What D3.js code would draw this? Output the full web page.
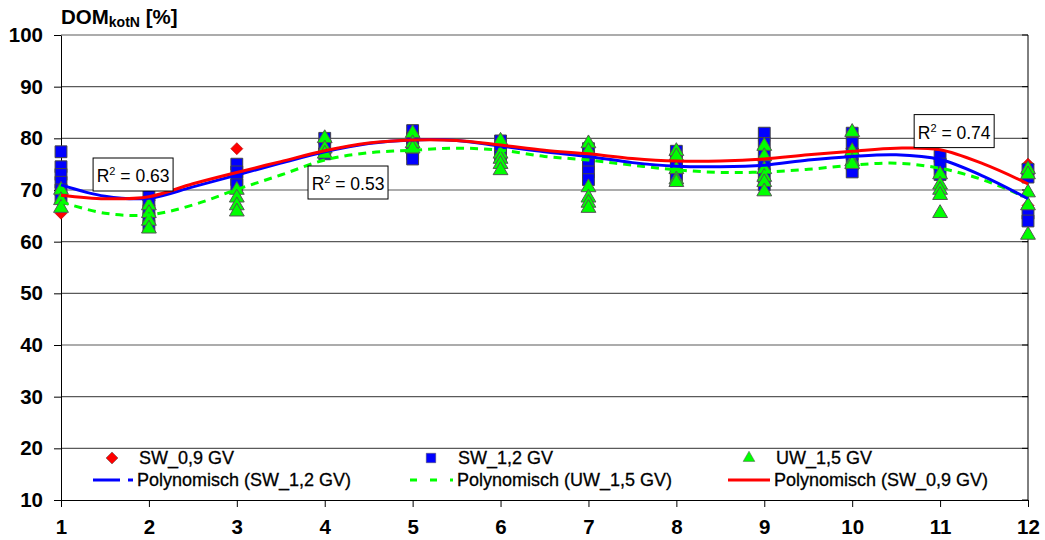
<!DOCTYPE html>
<html>
<head>
<meta charset="utf-8">
<script src="https://cdn.jsdelivr.net/npm/d3@7/dist/d3.min.js"></script>
<style>
  body { margin: 0; background: #fff; }
  svg { display: block; font-family: Arial, "Liberation Sans", sans-serif; }
</style>
</head>
<body>
<svg width="1045" height="540"></svg>
<script>
"use strict";

var svg_width = 1045;
var svg_height = 540;

var xTicks = [1, 2, 3, 4, 5, 6, 7, 8, 9, 10, 11, 12];
var yTicks = [10, 20, 30, 40, 50, 60, 70, 80, 90, 100];

var sw09 = [
    [1, 65.5], [1, 70], [2, 68], [3, 78], [3, 73], [4, 78], [5, 79], [6, 78],
    [7, 76], [8, 75], [9, 79.5], [9, 75], [10, 78], [11, 76], [12, 75], [12, 67]
];
var sw12 = [
    [1, 77.4], [1, 74.5], [1, 73], [1, 71.5], [1, 70], [1, 68.5],
    [2, 69], [2, 67.5], [2, 66], [2, 64.5], [2, 63],
    [3, 75], [3, 73.5], [3, 72], [3, 71],
    [4, 80], [4, 78.5], [4, 77],
    [5, 81.5], [5, 80], [5, 78.5], [5, 77], [5, 76],
    [6, 79.5], [6, 78], [6, 76.5],
    [7, 78], [7, 76.5], [7, 75], [7, 73.5], [7, 72],
    [8, 77.5], [8, 76], [8, 74.5], [8, 73], [8, 72],
    [9, 81], [9, 79], [9, 77], [9, 75], [9, 73], [9, 71],
    [10, 81], [10, 79], [10, 77], [10, 75], [10, 73.5],
    [11, 76.5], [11, 75], [11, 73],
    [12, 74], [12, 72.5], [12, 65.5], [12, 64]
];
var uw15 = [
    [1, 70], [1, 68], [1, 66.5],
    [2, 67], [2, 65.5], [2, 64], [2, 62.5],
    [3, 70], [3, 68.5], [3, 67], [3, 65.8],
    [4, 80], [4, 78], [4, 77],
    [5, 81], [5, 79], [5, 78],
    [6, 79.5], [6, 77], [6, 76], [6, 75], [6, 73.8],
    [7, 79], [7, 77.5], [7, 70.5], [7, 68.5], [7, 67.5], [7, 66.5],
    [8, 77.5], [8, 76.5], [8, 74], [8, 72], [8, 71.5],
    [9, 78.5], [9, 76.5], [9, 74], [9, 72.5], [9, 71.5], [9, 69.7],
    [10, 81.2], [10, 77.5], [10, 75.5], [10, 75],
    [11, 73], [11, 71], [11, 70], [11, 69], [11, 65.5],
    [12, 74], [12, 73], [12, 69.5], [12, 67], [12, 61.3]
];

// polynomial trend lines, every half month
var trendX = [1, 1.5, 2, 2.5, 3, 3.5, 4, 4.5, 5, 5.5, 6, 6.5, 7, 7.5, 8, 8.5, 9, 9.5, 10, 10.5, 11, 11.5, 12];
var trendSW09 = [69.0, 68.3, 68.7, 71.2, 73.4, 75.5, 77.6, 79.1, 79.7, 79.6, 78.7, 77.7, 77.0, 76.1, 75.6, 75.6, 76.0, 76.8, 77.5, 78.1, 77.8, 75.0, 71.2];
var trendSW12 = [71.0, 68.8, 68.4, 70.6, 72.9, 75.2, 77.4, 79.0, 79.7, 79.6, 78.5, 77.4, 76.5, 75.3, 74.6, 74.5, 74.8, 75.8, 76.5, 76.8, 75.9, 72.6, 68.3];
var trendUW15 = [67.7, 65.5, 65.2, 67.1, 70.1, 72.9, 75.8, 77.2, 77.7, 78.1, 77.7, 76.5, 75.8, 74.8, 73.9, 73.4, 73.5, 74.0, 74.8, 75.2, 74.2, 71.9, 68.4];

var r2Labels = ["0.63", "0.53", "0.74"];
var r2At = [[1.82, 73.0], [4.265, 71.45], [11.16, 81.4]];

var svg = d3.select("svg");

var xScale = d3.scaleLinear().domain([1, 12]).range([61, 1028]);
var yScale = d3.scaleLinear().domain([10, 100]).range([500, 35]);

// Gitternetz
svg.append("g")
    .selectAll("line")
    .data(yTicks.slice(1))
    .enter().append("line")
    .attr("x1", xScale(1)).attr("x2", xScale(12))
    .attr("y1", function(d) {return yScale(d);})
    .attr("y2", function(d) {return yScale(d);})
    .attr("stroke", "#5a5a5a")
    .attr("stroke-width", 1.2);

// Y axis
var yAxis = svg.append("g")
    .attr("transform", "translate(" + xScale(1) + ",0)")
    .call(d3.axisLeft(yScale).tickValues(yTicks).tickSize(7).tickPadding(11).tickSizeOuter(0));
yAxis.selectAll("text")
    .attr("font-size", 20.5).attr("font-weight", "bold").attr("fill", "#000")
    .attr("font-family", "Arial, 'Liberation Sans', sans-serif");

// right frame with inner ticks
svg.append("line")
    .attr("x1", xScale(12)).attr("x2", xScale(12))
    .attr("y1", yScale(100)).attr("y2", yScale(10))
    .attr("stroke", "#000");
svg.append("g").selectAll("line")
    .data(yTicks)
    .enter().append("line")
    .attr("x1", xScale(12) - 6).attr("x2", xScale(12))
    .attr("y1", function(d) {return yScale(d);})
    .attr("y2", function(d) {return yScale(d);})
    .attr("stroke", "#000");

// X axis
var xAxis = svg.append("g")
    .attr("transform", "translate(0," + yScale(10) + ")")
    .call(d3.axisBottom(xScale).tickValues(xTicks).tickSize(7).tickPadding(12).tickSizeOuter(0));
xAxis.selectAll("text")
    .attr("font-size", 20.5).attr("font-weight", "bold").attr("fill", "#000")
    .attr("font-family", "Arial, 'Liberation Sans', sans-serif");

// markers
var diamond = d3.symbol().type(d3.symbolSquare).size(72);
var square = d3.symbol().type(d3.symbolSquare).size(140);
var triangle = d3.symbol().type(d3.symbolTriangle).size(95);

svg.append("g").selectAll("path")
    .data(sw09)
    .enter().append("path")
    .attr("d", diamond)
    .attr("transform", function(d) {return "translate(" + xScale(d[0]) + "," + yScale(d[1]) + ") rotate(45)";})
    .attr("fill", "#ff0000").attr("stroke", "#b00000").attr("stroke-width", 0.6);

svg.append("g").selectAll("path")
    .data(sw12)
    .enter().append("path")
    .attr("d", square)
    .attr("transform", function(d) {return "translate(" + xScale(d[0]) + "," + yScale(d[1]) + ")";})
    .attr("fill", "#0000ff").attr("stroke", "#444").attr("stroke-width", 1);

svg.append("g").selectAll("path")
    .data(uw15)
    .enter().append("path")
    .attr("d", triangle)
    .attr("transform", function(d) {return "translate(" + xScale(d[0]) + "," + yScale(d[1]) + ")";})
    .attr("fill", "#00ff00").attr("stroke", "#555").attr("stroke-width", 1);

// trend lines
var line = d3.line()
    .x(function(d) {return xScale(d[0]);})
    .y(function(d) {return yScale(d[1]);})
    .curve(d3.curveCatmullRom);

function pairs(ys) {
    return trendX.map(function(x, i) {return [x, ys[i]];});
}

svg.append("path")
    .attr("d", line(pairs(trendUW15)))
    .attr("fill", "none").attr("stroke", "#00ff00")
    .attr("stroke-width", 3).attr("stroke-dasharray", "8,6");
svg.append("path")
    .attr("d", line(pairs(trendSW12)))
    .attr("fill", "none").attr("stroke", "#0000ff").attr("stroke-width", 3);
svg.append("path")
    .attr("d", line(pairs(trendSW09)))
    .attr("fill", "none").attr("stroke", "#ff0000").attr("stroke-width", 3);

// R² boxes
r2Labels.forEach(function(lbl, i) {
    var cx = xScale(r2At[i][0]);
    var cy = yScale(r2At[i][1]);
    var g = svg.append("g").attr("transform", "translate(" + cx + "," + cy + ")");
    g.append("rect")
        .attr("x", -40).attr("y", -16.5).attr("width", 80).attr("height", 33)
        .attr("fill", "#fff").attr("stroke", "#000").attr("stroke-width", 1);
    var t = g.append("text")
        .attr("x", 0).attr("y", 7.5)
        .attr("text-anchor", "middle")
        .attr("font-size", 17.5);
    t.append("tspan").text("R");
    t.append("tspan").attr("font-size", 11).attr("dy", -7).text("2");
    t.append("tspan").attr("dy", 7).text(" = " + lbl);
});

// title
var title = svg.append("text")
    .attr("x", 61).attr("y", 24)
    .attr("font-weight", "bold").attr("font-size", 20.5);
title.append("tspan").text("DOM");
title.append("tspan").attr("font-size", 14).attr("dy", 3).text("kotN");
title.append("tspan").attr("dy", -3).text(" [%]");

// legend
var legendMarkers = [
    {name: "SW_0,9 GV", x: 112, sym: diamond, fill: "#ff0000", rot: 45},
    {name: "SW_1,2 GV", x: 431, sym: d3.symbol().type(d3.symbolSquare).size(90), fill: "#0000ff", rot: 0},
    {name: "UW_1,5 GV", x: 749, sym: d3.symbol().type(d3.symbolTriangle).size(60), fill: "#00ff00", rot: 0}
];
var legendLines = [
    {name: "Polynomisch (SW_1,2 GV)", x0: 93, x1: 133, color: "#0000ff", dash: "27,8,5"},
    {name: "Polynomisch (UW_1,5 GV)", x0: 410, x1: 453, color: "#00ff00", dash: "7,13"},
    {name: "Polynomisch (SW_0,9 GV)", x0: 728, x1: 770, color: "#ff0000", dash: null}
];

legendMarkers.forEach(function(m) {
    svg.append("path")
        .attr("d", m.sym)
        .attr("transform", "translate(" + m.x + ",458) rotate(" + m.rot + ")")
        .attr("fill", m.fill).attr("stroke", "#555").attr("stroke-width", 0.5);
    svg.append("text")
        .attr("x", m.x + 27).attr("y", 464)
        .attr("font-size", 18)
        .attr("stroke", "#000").attr("stroke-width", 0.3)
        .text(m.name);
});
legendLines.forEach(function(l) {
    svg.append("line")
        .attr("x1", l.x0).attr("x2", l.x1).attr("y1", 480).attr("y2", 480)
        .attr("stroke", l.color).attr("stroke-width", 3)
        .attr("stroke-dasharray", l.dash);
    svg.append("text")
        .attr("x", l.x1 + 4).attr("y", 486)
        .attr("font-size", 18)
        .attr("stroke", "#000").attr("stroke-width", 0.3)
        .text(l.name);
});
</script>
</body>
</html>
